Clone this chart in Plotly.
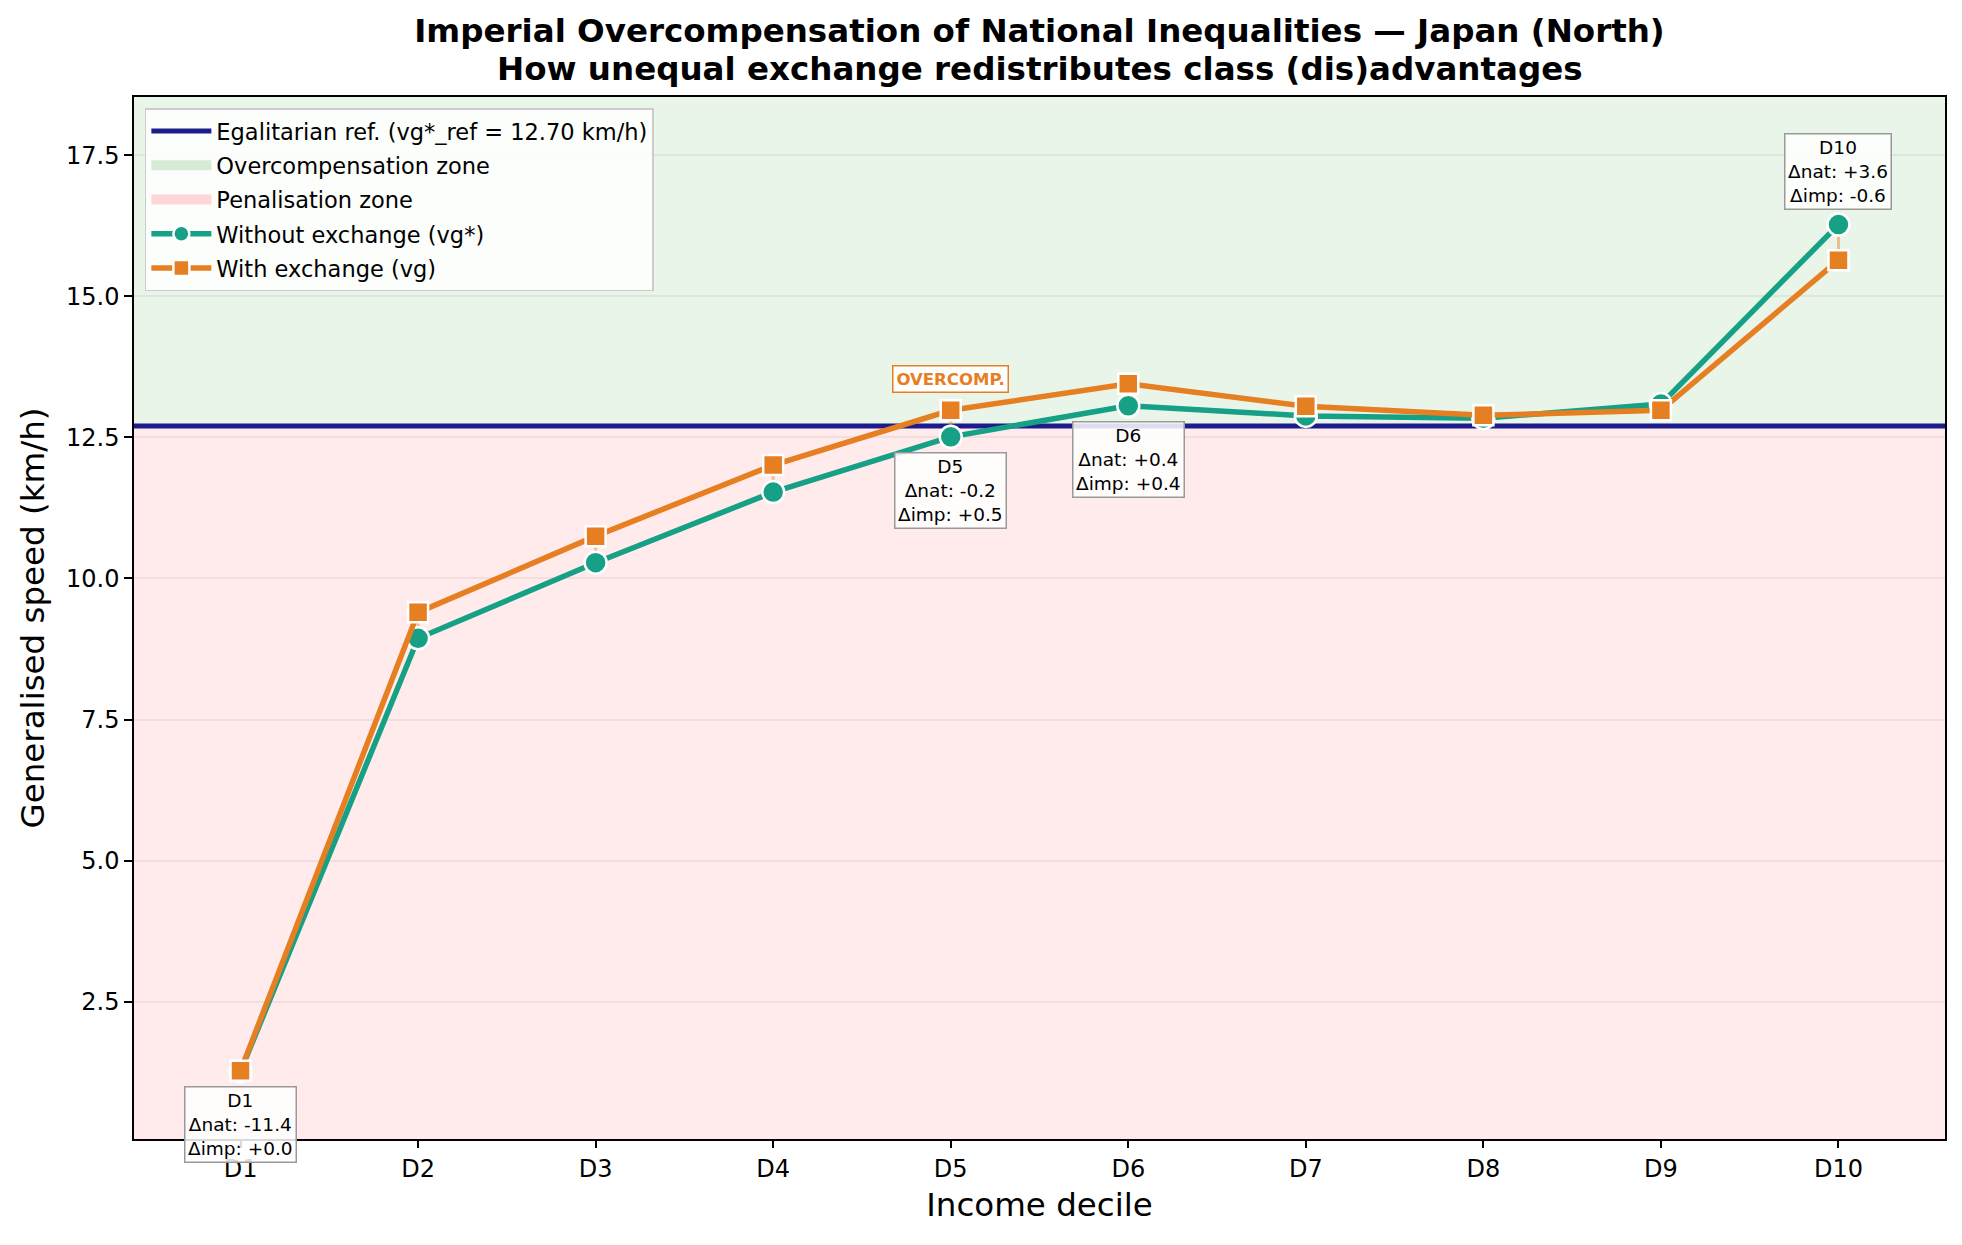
import plotly.graph_objects as go

# ---------------- data ----------------
deciles = ["D1", "D2", "D3", "D4", "D5", "D6", "D7", "D8", "D9", "D10"]
vg_star = [1.27, 8.94, 10.28, 11.53, 12.51, 13.06, 12.88, 12.84, 13.09, 16.27]   # without exchange
vg = [1.28, 9.40, 10.75, 12.01, 12.98, 13.45, 13.05, 12.89, 12.98, 15.64]        # with exchange
vg_ref = 12.70
y_ticks = [2.5, 5.0, 7.5, 10.0, 12.5, 15.0, 17.5]
labelled = ["D1", "D5", "D6", "D10"]
label_side = {"D1": "below", "D5": "below", "D6": "below", "D10": "above"}
title_line1 = "Imperial Overcompensation of National Inequalities \u2014 Japan (North)"
title_line2 = "How unequal exchange redistributes class (dis)advantages"

# ---------------- style ----------------
FONT = "DejaVu Sans"
TEAL = "#16a085"
ORANGE = "#e67e22"
NAVY = "#1c1c8c"
X_RANGE = [-0.6, 9.6]
Y_RANGE = [0.07, 18.53]
W, H = 1954, 1237          # page body has an 8px offset
M = dict(l=126, r=17, t=89, b=106)
plot_h = H - M["t"] - M["b"]

xs = list(range(len(deciles)))
fig = go.Figure()

# zones (in plot)
fig.add_trace(go.Scatter(
    x=[X_RANGE[0], X_RANGE[1], X_RANGE[1], X_RANGE[0], X_RANGE[0]],
    y=[vg_ref, vg_ref, Y_RANGE[1], Y_RANGE[1], vg_ref],
    fill="toself", fillcolor="rgba(46,160,46,0.10)", mode="none",
    showlegend=False, hoverinfo="skip"))
fig.add_trace(go.Scatter(
    x=[X_RANGE[0], X_RANGE[1], X_RANGE[1], X_RANGE[0], X_RANGE[0]],
    y=[Y_RANGE[0], Y_RANGE[0], vg_ref, vg_ref, Y_RANGE[0]],
    fill="toself", fillcolor="rgba(255,120,120,0.15)", mode="none",
    showlegend=False, hoverinfo="skip"))

# egalitarian reference
fig.add_trace(go.Scatter(
    x=X_RANGE, y=[vg_ref, vg_ref], mode="lines",
    line=dict(color=NAVY, width=5),
    name=f"Egalitarian ref. (vg*_ref = {vg_ref:.2f} km/h)", legendgroup="g1", legendrank=1,
    hoverinfo="skip"))

# legend patches for zones
fig.add_trace(go.Scatter(x=[None], y=[None], mode="lines",
                         line=dict(color="#d5ebd5", width=16),
                         name="Overcompensation zone", legendgroup="g2", legendrank=2))
fig.add_trace(go.Scatter(x=[None], y=[None], mode="lines",
                         line=dict(color="#ffd6d6", width=16),
                         name="Penalisation zone", legendgroup="g3", legendrank=3))

# connectors
cx, cy = [], []
for i in xs:
    cx += [i, i, None]
    cy += [vg_star[i], vg[i], None]
fig.add_trace(go.Scatter(x=cx, y=cy, mode="lines",
                         line=dict(color="rgba(230,126,34,0.45)", width=3),
                         showlegend=False, hoverinfo="skip"))

fig.add_trace(go.Scatter(
    x=xs, y=vg_star, mode="lines+markers", name="Without exchange (vg*)",
    line=dict(color=TEAL, width=5.5),
    marker=dict(symbol="circle", size=22, color=TEAL, line=dict(color="white", width=2.5)),
    legendgroup="g4", legendrank=4))
fig.add_trace(go.Scatter(
    x=xs, y=vg, mode="lines+markers", name="With exchange (vg)",
    line=dict(color=ORANGE, width=5.5),
    marker=dict(symbol="square", size=20, color=ORANGE, line=dict(color="white", width=2.5)),
    legendgroup="g5", legendrank=5))

# decile annotations
for d in labelled:
    i = deciles.index(d)
    dnat = vg_star[i] - vg_ref
    dimp = vg[i] - vg_star[i]
    txt = f"{d}<br>\u0394nat: {dnat:+.1f}<br>\u0394imp: {dimp:+.1f}"
    if label_side[d] == "above":
        y, ya, ys = max(vg_star[i], vg[i]), "bottom", 15
    else:
        y, ya, ys = min(vg_star[i], vg[i]), "top", -15
    fig.add_annotation(x=i, y=y, xref="x", yref="y", text=txt, showarrow=False,
                       yanchor=ya, yshift=ys,
                       font=dict(family=FONT, size=18.5, color="black"),
                       bgcolor="rgba(255,255,255,0.85)", bordercolor="#999999",
                       borderwidth=1.5, borderpad=2.5)

# overcompensation markers
for i in xs:
    if vg_star[i] < vg_ref <= vg[i]:
        fig.add_annotation(x=i, y=max(vg_star[i], vg[i]), xref="x", yref="y",
                           text="<b>OVERCOMP.</b>", showarrow=False, yanchor="middle",
                           yshift=31, font=dict(family=FONT, size=16.5, color=ORANGE),
                           bgcolor="white", bordercolor=ORANGE, borderwidth=1.5, borderpad=3)

# second title line
fig.add_annotation(x=0.5, xref="paper", xanchor="center",
                   y=1 + (M["t"] - 61) / plot_h, yref="paper", yanchor="middle",
                   text=f"<b>{title_line2}</b>", showarrow=False,
                   font=dict(family=FONT, size=32.5, color="black"))

fig.update_layout(
    width=W, height=H,
    margin=M,
    paper_bgcolor="white", plot_bgcolor="white",
    font=dict(family=FONT, color="black"),
    title=dict(text=f"<b>{title_line1}</b>",
               x=0.5, xref="paper", xanchor="center", y=1 - 23 / H, yref="container",
               yanchor="middle",
               font=dict(family=FONT, size=32.5, color="black")),
    legend=dict(x=0.006, y=0.989, xanchor="left", yanchor="top",
                bgcolor="rgba(255,255,255,0.85)", bordercolor="#cccccc", borderwidth=1.5,
                font=dict(family=FONT, size=22.5, color="black"),
                traceorder="grouped", tracegroupgap=2, itemwidth=60),
    showlegend=True,
)
fig.update_xaxes(range=X_RANGE, tickmode="array", tickvals=xs, ticktext=deciles,
                 showgrid=False, zeroline=False, showline=True, linecolor="black",
                 linewidth=1.5, mirror=True, ticks="outside", ticklen=7, tickwidth=1.5,
                 tickcolor="black", tickfont=dict(family=FONT, size=24), automargin=False,
                 title=dict(text="Income decile", font=dict(family=FONT, size=32.5), standoff=12))
fig.update_yaxes(range=Y_RANGE, tickmode="array", tickvals=y_ticks,
                 ticktext=[f"{t:.1f}" for t in y_ticks],
                 showgrid=True, gridcolor="rgba(0,0,0,0.06)", gridwidth=1.5,
                 zeroline=False, showline=True, linecolor="black", automargin=False,
                 linewidth=1.5, mirror=True, ticks="outside", ticklen=8, tickwidth=1.5,
                 tickcolor="black", tickfont=dict(family=FONT, size=24),
                 title=dict(text="Generalised speed (km/h)", font=dict(family=FONT, size=32.5), standoff=12))

fig.write_html("out.html")
